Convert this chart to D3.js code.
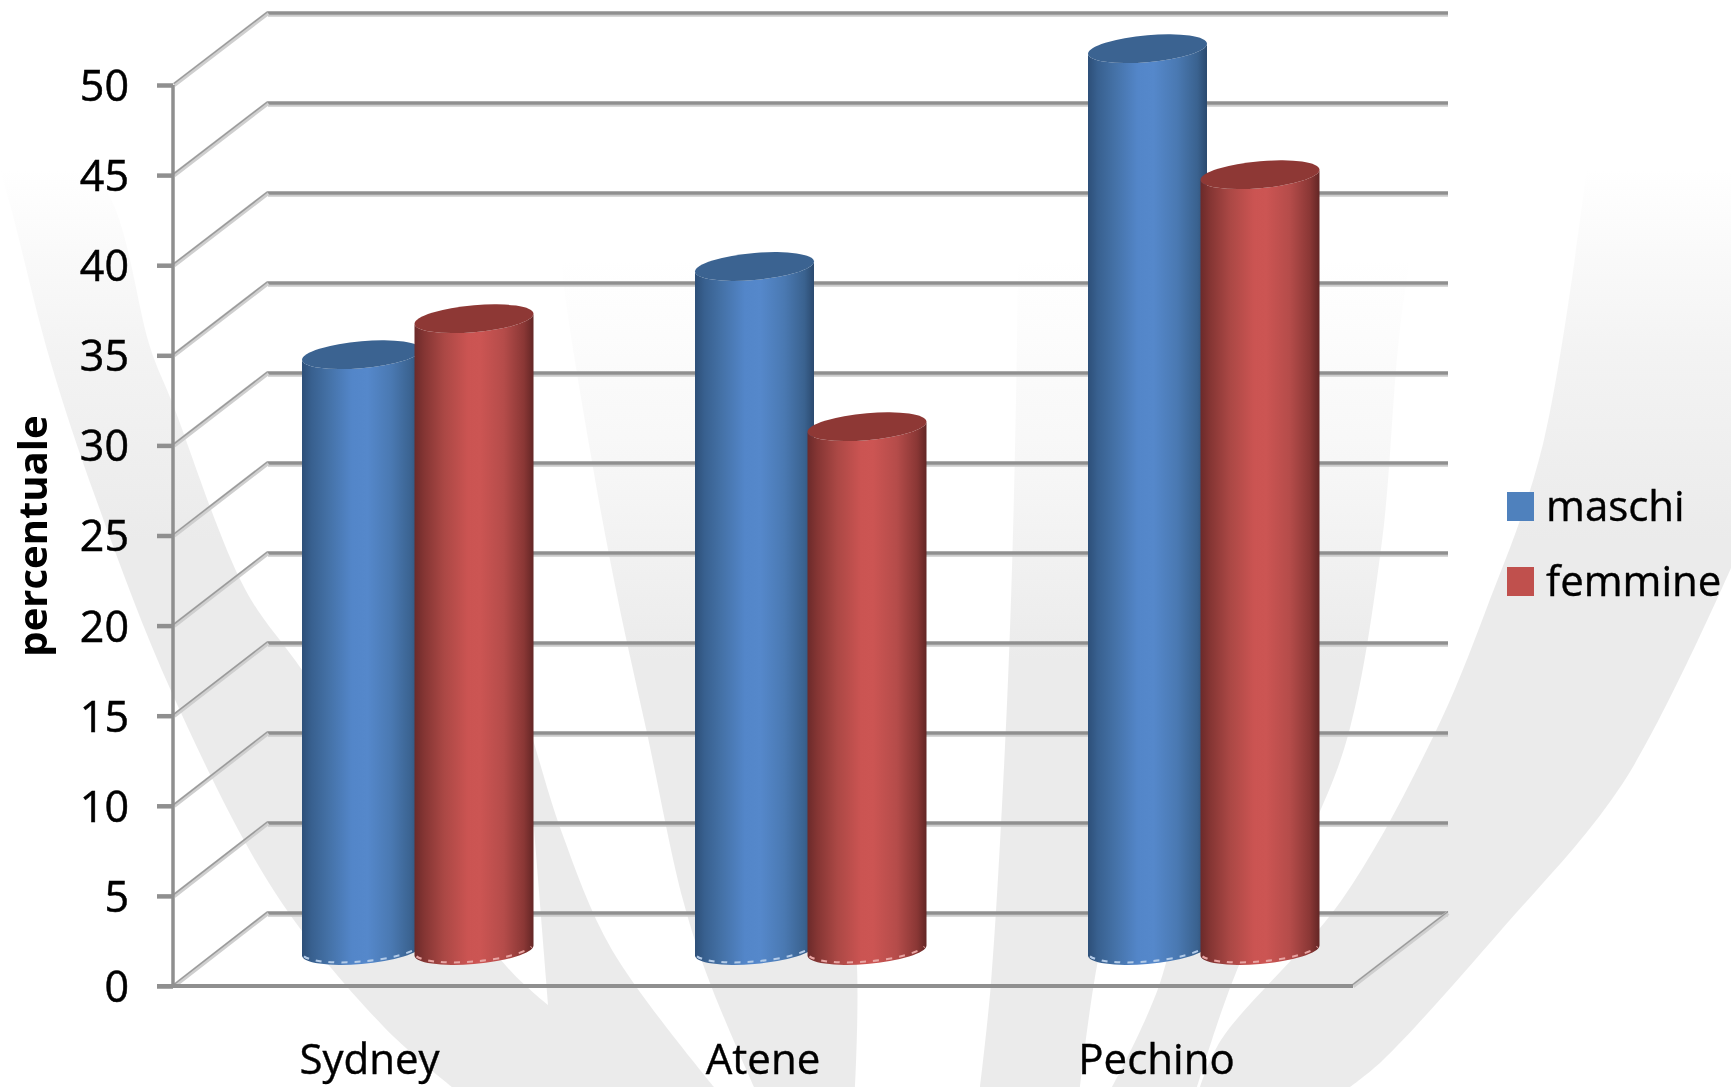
<!DOCTYPE html>
<html><head><meta charset="utf-8">
<style>
html,body{margin:0;padding:0;background:#fff;overflow:hidden}
svg{display:block;filter:blur(.5px)}
text{font-family:"Open Sans",sans-serif;fill:#000}
</style>
<script src="https://cdn.jsdelivr.net/npm/d3@7"></script>
</head><body><svg id="c" width="1731" height="1087"></svg>
<script>
const categories=["Sydney","Atene","Pechino"];
const seriesNames=["maschi","femmine"];
const maschi=[33.1,38.0,50.1];
const femmine=[35.1,29.1,43.1];
const yTicks=[0,5,10,15,20,25,30,35,40,45,50];
const seriesValues=[maschi,femmine];

const svg=d3.select("#c");
const defs=svg.append("defs");

/* layout */
const depthX=94, depthY=73;
const backLeft=268, backRight=1448;
const yBack=d3.scaleLinear().domain([0,50]).range([913,13]);
const yFront=d3.scaleLinear().domain([0,50]).range([913+depthY,13+depthY-1]);
const yMid=v=>yBack(v)+depthY/2+1;
const xCat=d3.scalePoint().domain(categories).range([418,1204]);
const xSer=d3.scalePoint().domain(seriesNames).range([-56.5,56]);
const rx=59.5, ry=13.5, skew=-4.8;

/* background swooshes: two smooth edges each, closed with straight ends */
function fadeGrad(id,y1,y2,mid){
  const f=defs.append("linearGradient").attr("id",id).attr("gradientUnits","userSpaceOnUse")
    .attr("x1",0).attr("x2",0).attr("y1",y1).attr("y2",y2);
  f.append("stop").attr("offset",0).attr("stop-color","#ffffff");
  f.append("stop").attr("offset",.5).attr("stop-color",mid);
  f.append("stop").attr("offset",1).attr("stop-color","#ebebeb");
}
fadeGrad("fadeSide",170,540,"#f3f3f3");
fadeGrad("fadeMid",260,660,"#f7f7f7");
const swooshes=[
 {f:"fadeSide",a:[[60,110],[115,208],[150,347],[172,402],[245,589],[302,670],[400,820],[507,967],[548,1005]],
  b:[[525,715],[533,740],[562,833],[612,950],[714,1087]],
  c:[[452,1087],[383,1026],[276,894],[172,693],[96,499],[50,360],[11,208],[0,170]]},
 {f:"fadeMid",a:[[760,100],[790,300],[810,500],[840,800],[857,967],[855,1087]],
  b:[[754,1087],[710,983],[683,900],[647,733],[618,600],[590,450],[560,250],[555,100]]},
 {f:"fadeMid",a:[[1020,100],[1016,400],[1011,600],[1004,767],[991,983],[980,1087]],
  b:[[1080,1087],[1094,983],[1130,800],[1150,600],[1170,100]]},
 {f:"fadeMid",a:[[1112,1087],[1160,983],[1200,800],[1260,500],[1310,100]],
  b:[[1440,100],[1402,312],[1382,541],[1350,728],[1317,818],[1240,963],[1197,1087]]},
 {f:"fadeSide",a:[[1595,104],[1543,444],[1486,610],[1434,735],[1341,901],[1221,1040],[1200,1087]],
  b:[[1350,1087],[1382,1061],[1502,929],[1623,783],[1731,568]],
  c:[[1731,100]]}
];
const edge=d3.line().curve(d3.curveCatmullRom.alpha(.5));
function swooshPath(s){
  return [s.a,s.b,s.c].filter(Boolean).map((e,i)=>{
    const p=e.length>1?edge(e):"M"+e[0].join(",");
    return i? "L"+p.slice(1):p;
  }).join("")+"Z";
}
svg.append("g").selectAll("path").data(swooshes).join("path")
  .attr("d",swooshPath).attr("fill",d=>`url(#${d.f})`);

/* gradients for cylinders */
const grads={
 maschi:[[0,"#2d4f78"],[.08,"#38608f"],[.22,"#4471a6"],[.42,"#5386c9"],[.55,"#5588cb"],[.75,"#4a79b2"],[.92,"#3a628f"],[1,"#2b4a6f"]],
 femmine:[[0,"#6b2a2a"],[.08,"#843533"],[.25,"#ab4845"],[.45,"#cb5452"],[.55,"#cc5553"],[.75,"#b54c4a"],[.92,"#8a3735"],[1,"#632625"]]
};
seriesNames.forEach(n=>{
  const g=defs.append("linearGradient").attr("id","g-"+n).attr("x1",0).attr("x2",1).attr("y1",0).attr("y2",0);
  grads[n].forEach(s=>g.append("stop").attr("offset",s[0]).attr("stop-color",s[1]));
});
const topColor={maschi:"#3b6391",femmine:"#8e3835"};
const bottomDash={maschi:"#b3cbe8",femmine:"#e8a5a3"};
const legendColor={maschi:"#4f81bd",femmine:"#c0504d"};

/* back wall gridlines */
const grid=svg.append("g");
grid.selectAll("line.s").data(yTicks).join("line").attr("class","s")
  .attr("x1",backLeft).attr("x2",backRight).attr("y1",d=>yBack(d)+2.5).attr("y2",d=>yBack(d)+2.5)
  .attr("stroke","#cbcbcb").attr("stroke-width",2.5);
grid.selectAll("line.m").data(yTicks).join("line").attr("class","m")
  .attr("x1",backLeft).attr("x2",backRight).attr("y1",d=>yBack(d)).attr("y2",d=>yBack(d))
  .attr("stroke","#8f8f8f").attr("stroke-width",3.5);

/* side wall diagonals */
const diag=svg.append("g");
diag.selectAll("line.d1").data(yTicks).join("line").attr("class","d1")
  .attr("x1",174).attr("y1",d=>yFront(d)).attr("x2",backLeft).attr("y2",d=>yBack(d))
  .attr("stroke","#cfcfcf").attr("stroke-width",4.5);
diag.selectAll("line.d2").data(yTicks).join("line").attr("class","d2")
  .attr("x1",174).attr("y1",d=>yFront(d)-1.5).attr("x2",backLeft).attr("y2",d=>yBack(d)-1.5)
  .attr("stroke","#9a9a9a").attr("stroke-width",1.5);
diag.append("line").attr("x1",1353).attr("y1",yFront(0)).attr("x2",backRight).attr("y2",yBack(0))
  .attr("stroke","#cfcfcf").attr("stroke-width",4.5);
diag.append("line").attr("x1",1353).attr("y1",yFront(0)-1.5).attr("x2",backRight).attr("y2",yBack(0)-1.5)
  .attr("stroke","#9a9a9a").attr("stroke-width",1.5);

/* front axis */
const axisY=d3.axisLeft(yFront).tickValues(yTicks).tickSize(16).tickPadding(28);
const ag=svg.append("g").attr("transform","translate(173,0)").call(axisY);
ag.select(".domain").attr("stroke","#8f8f8f").attr("stroke-width",3.5).attr("d",`M0,${yFront(50)}V${yFront(0)}`);
ag.selectAll(".tick line").attr("stroke","#8f8f8f").attr("stroke-width",4.5);
ag.selectAll(".tick text").attr("font-size",43).attr("font-family",'"Open Sans",sans-serif').attr("fill","#000")
  .attr("stroke","#000").attr("stroke-width",.5).attr("dy","0.36em");

/* front floor line */
svg.append("line").attr("x1",157).attr("x2",1353).attr("y1",yFront(0)).attr("y2",yFront(0))
  .attr("stroke","#8f8f8f").attr("stroke-width",4);

/* cylinders */
const flat=[];
categories.forEach((c,i)=>seriesNames.forEach((s,j)=>flat.push({c,s,v:seriesValues[j][i]})));
const cyl=svg.append("g").selectAll("g").data(flat).join("g")
  .attr("transform",d=>`translate(${xCat(d.c)+xSer(d.s)},0)`);
const sk=`skewY(${skew})`;
cyl.append("path").attr("transform",sk)
  .attr("d",d=>{
    const t=yMid(d.v),b=yMid(0);
    return `M${-rx},${t}L${-rx},${b}A${rx},${ry} 0 0 0 ${rx},${b}L${rx},${t}A${rx},${ry} 0 0 1 ${-rx},${t}Z`;
  }).attr("fill",d=>`url(#g-${d.s})`);
cyl.append("path").attr("transform",sk)
  .attr("d",()=>{const b=yMid(0);return `M${-rx+2},${b+1}A${rx},${ry} 0 0 0 ${rx-2},${b+1}`;})
  .attr("fill","none").attr("stroke",d=>bottomDash[d.s]).attr("stroke-width",2).attr("stroke-dasharray","6 7");
cyl.append("ellipse").attr("transform",sk)
  .attr("cx",0).attr("cy",d=>yMid(d.v)).attr("rx",rx).attr("ry",ry).attr("fill",d=>topColor[d.s]);

/* category labels */
const xLabelScale=d3.scalePoint().domain(categories).range([xCat.range()[0]-49,xCat.range()[1]-48]);
const ax=d3.axisBottom(xLabelScale).tickSize(0).tickPadding(0);
const bg=svg.append("g").attr("transform","translate(0,1074)").call(ax);
bg.select(".domain").remove();
bg.selectAll(".tick text").attr("font-size",42).attr("font-family",'"Open Sans",sans-serif').attr("fill","#000")
  .attr("stroke","#000").attr("stroke-width",.4).attr("dy",0).attr("y",0);

/* y title */
svg.append("text").attr("transform","translate(47,536) rotate(-90)").attr("text-anchor","middle")
  .attr("font-size",40).attr("font-weight",700).text("percentuale");

/* legend */
const legY=d3.scalePoint().domain(seriesNames).range([492,567]);
const lg=svg.append("g").selectAll("g").data(seriesNames).join("g")
  .attr("transform",d=>`translate(1507,${legY(d)})`);
lg.append("rect").attr("width",27).attr("height",29).attr("fill",d=>legendColor[d]);
lg.append("text").attr("x",39).attr("y",29).attr("font-size",42).attr("stroke","#000").attr("stroke-width",.4).text(d=>d);
</script></body></html>
